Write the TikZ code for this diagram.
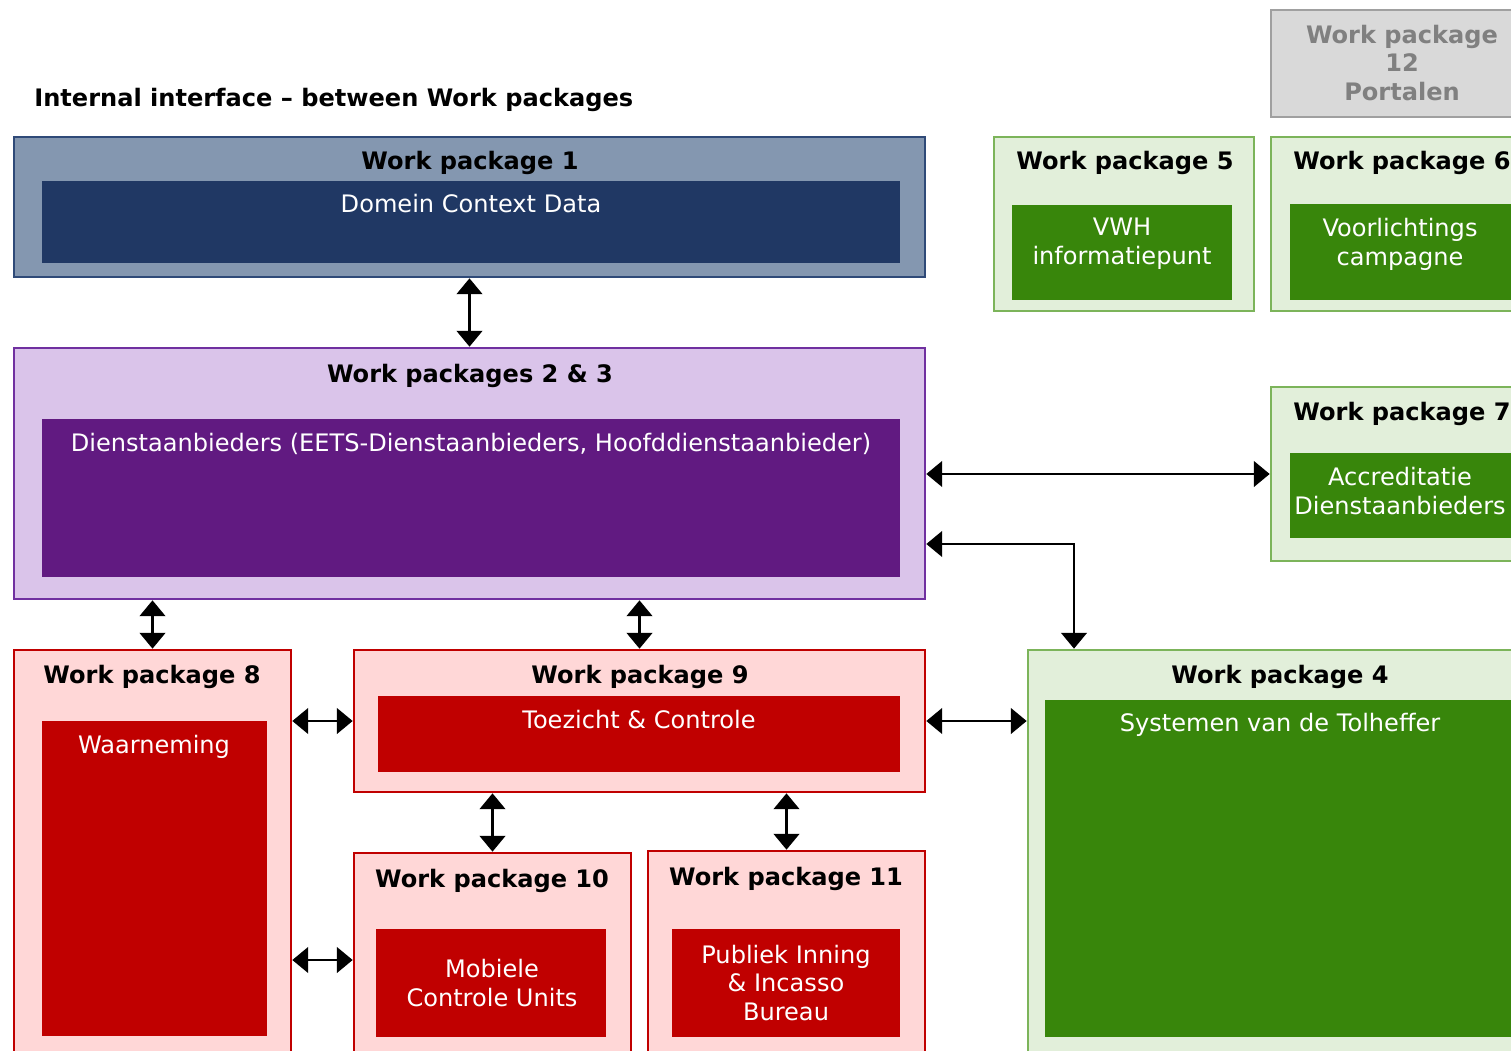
\documentclass[tikz,border=0pt]{standalone}
\usepackage{fontspec}
\setmainfont{DejaVu Sans}
\usetikzlibrary{arrows.meta,fit}
\definecolor{wpaline}{HTML}{2F4A78}
\definecolor{wpafill}{HTML}{8497B0}
\definecolor{wpacore}{HTML}{203864}
\definecolor{wpbline}{HTML}{7030A0}
\definecolor{wpbfill}{HTML}{DAC4EA}
\definecolor{wpbcore}{HTML}{611A81}
\definecolor{grline}{HTML}{7CB45A}
\definecolor{grfill}{HTML}{E2EFDA}
\definecolor{grcore}{HTML}{38860B}
\definecolor{rdline}{HTML}{C00000}
\definecolor{rdfill}{HTML}{FFD7D7}
\definecolor{rdcore}{HTML}{C00000}
\definecolor{gyline}{HTML}{A0A0A0}
\definecolor{gyfill}{HTML}{D9D9D9}
\definecolor{gytext}{HTML}{808080}
\begin{document}
\begin{tikzpicture}[x=0.02cm,y=-0.02cm,font=\fontsize{13.7}{16.4}\selectfont,
		wp/.style={draw,line width=1.5pt,inner sep=0pt},
		core/.style={inner sep=0pt},
		hd/.style={font=\fontsize{13.7}{16.4}\selectfont\bfseries,anchor=base},
		txt/.style={text=white,align=center},
		link/.style={line width=1.5pt,{Triangle[length=9pt,width=14.5pt]}-{Triangle[length=9pt,width=14.5pt]}}]
		\clip (0,0) rectangle (1511,1051);
		\node[hd,anchor=base west,inner sep=0pt] (title) at (34,107) {Internal interface – between Work packages};
		% Work package 1
		\node[wp,draw=wpaline,fill=wpafill,fit={(14,137)(925,277)}] (wp1) {};
		\node[core,fill=wpacore,fit={(42,181)(900,263)}] (wp1c) {};
		\node[hd] (wp1h) at (470,170) {Work package 1};
		\node[txt,anchor=base] (wp1t) at (471,212) {Domein Context Data};
		% Work packages 2 & 3
		\node[wp,draw=wpbline,fill=wpbfill,fit={(14,348)(925,599)}] (wp23) {};
		\node[core,fill=wpbcore,fit={(42,419)(900,577)}] (wp23c) {};
		\node[hd] (wp23h) at (470,382) {Work packages 2 \& 3};
		\node[txt,anchor=base] (wp23t) at (471,451) {Dienstaanbieders (EETS-Dienstaanbieders, Hoofddienstaanbieder)};
		% Work package 12, 5, 6, 7
		\node[wp,draw=gyline,fill=gyfill,fit={(1271,10)(1533,117)}] (wp12) {};
		\node[align=center,text=gytext,font=\fontsize{13.7}{16.4}\selectfont\bfseries] (wp12t) at (1402,63) {Work package\\12\\Portalen};
		\node[wp,draw=grline,fill=grfill,fit={(994,137)(1254,311)}] (wp5) {};
		\node[core,fill=grcore,fit={(1012,205)(1232,300)}] (wp5c) {};
		\node[hd] (wp5h) at (1125,170) {Work package 5};
		\node[txt] (wp5t) at (1122,244) {VWH\\informatiepunt};
		\node[wp,draw=grline,fill=grfill,fit={(1271,137)(1533,311)}] (wp6) {};
		\node[core,fill=grcore,fit={(1290,204)(1514,300)}] (wp6c) {};
		\node[hd] (wp6h) at (1402,170) {Work package 6};
		\node[txt] (wp6t) at (1400,244) {Voorlichtings\\campagne};
		\node[wp,draw=grline,fill=grfill,fit={(1271,387)(1533,561)}] (wp7) {};
		\node[core,fill=grcore,fit={(1290,453)(1514,538)}] (wp7c) {};
		\node[hd] (wp7h) at (1402,420) {Work package 7};
		\node[txt] (wp7t) at (1400,491) {Accreditatie\\Dienstaanbieders};
		% Work package 4
		\node[wp,draw=grline,fill=grfill,fit={(1028,650)(1533,1070)}] (wp4) {};
		\node[core,fill=grcore,fit={(1045,700)(1515,1037)}] (wp4c) {};
		\node[hd] (wp4h) at (1280,683) {Work package 4};
		\node[txt,anchor=base] (wp4t) at (1280,731) {Systemen van de Tolheffer};
		% Work packages 8 - 11
		\node[wp,draw=rdline,fill=rdfill,fit={(14,650)(291,1070)}] (wp8) {};
		\node[core,fill=rdcore,fit={(42,721)(267,1036)}] (wp8c) {};
		\node[hd] (wp8h) at (152,683) {Work package 8};
		\node[txt,anchor=base] (wp8t) at (154,753) {Waarneming};
		\node[wp,draw=rdline,fill=rdfill,fit={(354,650)(925,792)}] (wp9) {};
		\node[core,fill=rdcore,fit={(378,696)(900,772)}] (wp9c) {};
		\node[hd] (wp9h) at (640,683) {Work package 9};
		\node[txt,anchor=base] (wp9t) at (639,728) {Toezicht \& Controle};
		\node[wp,draw=rdline,fill=rdfill,fit={(354,853)(631,1067)}] (wp10) {};
		\node[core,fill=rdcore,fit={(376,929)(606,1037)}] (wp10c) {};
		\node[hd] (wp10h) at (492,887) {Work package 10};
		\node[txt] (wp10t) at (492,983) {Mobiele\\Controle Units};
		\node[wp,draw=rdline,fill=rdfill,fit={(648,851)(925,1070)}] (wp11) {};
		\node[core,fill=rdcore,fit={(672,929)(900,1037)}] (wp11c) {};
		\node[hd] (wp11h) at (786,885) {Work package 11};
		\node[txt] (wp11t) at (786,983) {Publiek Inning\\\& Incasso\\Bureau};
		% interfaces
		\draw[link] (wp1) -- (wp23);
		\draw[link] (wp23.south -| wp8.north) -- (wp8.north);
		\draw[link] (wp23.south -| wp9.north) -- (wp9.north);
		\draw[link] (wp8.east |- wp9.west) -- (wp9.west);
		\draw[link] (wp9.east) -- (wp4.west |- wp9.east);
		\draw[link] (wp9.south -| wp10.north) -- (wp10.north);
		\draw[link] (wp9.south -| wp11.north) -- (wp11.north);
		\draw[link] (wp8.east |- wp10.west) -- (wp10.west);
		\draw[link] (wp23.east |- wp7.west) -- (wp7.west);
		\coordinate (bend) at (1074,544);
		\draw[link] (wp23.east |- bend) -| (wp4.north -| bend);
	\end{tikzpicture}
\end{document}
